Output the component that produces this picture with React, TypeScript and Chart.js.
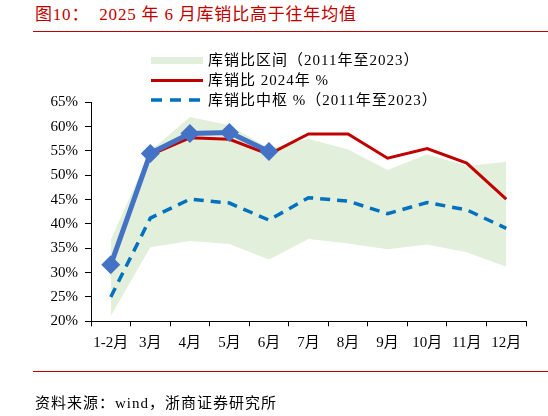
import React, { useEffect, useRef } from "react";
import { Chart, registerables } from "chart.js";

Chart.register(...registerables);

const categories = ["1-2月", "3月", "4月", "5月", "6月", "7月", "8月", "9月", "10月", "11月", "12月"];
const bandUpper = [36.7, 55.0, 62.0, 60.3, 55.5, 57.5, 55.3, 51.1, 54.3, 51.9, 52.8];
const bandLower = [21.1, 35.2, 36.5, 35.9, 32.7, 36.9, 36.0, 34.8, 35.8, 34.2, 31.2];
const median = [25.0, 41.2, 45.1, 44.3, 40.8, 45.4, 44.7, 42.1, 44.4, 42.9, 39.1];
const ratio2024 = [31.8, 54.2, 57.7, 57.4, 54.3, 58.5, 58.5, 53.5, 55.5, 52.5, 45.1];
const ratio2025 = [31.6, 54.5, 58.6, 58.8, 54.9, null, null, null, null, null, null];
const yTicks = [20, 25, 30, 35, 40, 45, 50, 55, 60, 65];

const FONT = "'Liberation Serif', 'Noto Sans CJK SC', serif";
const RED = "#C00000";
const GREEN = "#E2EFDA";
const DASH_BLUE = "#0070C0";
const BLUE = "#4472C4";

export default function App() {
  const ref = useRef<HTMLCanvasElement | null>(null);

  useEffect(() => {
    document.body.style.margin = "0";
    const canvas = ref.current;
    if (!canvas) return;
    const chart = new Chart(canvas, {
      type: "line",
      data: {
        labels: categories,
        datasets: [
          {
            label: "2025",
            data: ratio2025,
            borderColor: BLUE,
            backgroundColor: BLUE,
            borderWidth: 5,
            pointStyle: "rectRot",
            pointRadius: 9.5,
            pointBorderWidth: 0,
            fill: false,
            tension: 0,
          },
          {
            label: "库销比 2024年 %",
            data: ratio2024,
            borderColor: RED,
            borderWidth: 3,
            pointRadius: 0,
            fill: false,
            tension: 0,
          },
          {
            label: "库销比中枢 %（2011年至2023）",
            data: median,
            borderColor: DASH_BLUE,
            borderWidth: 3.5,
            borderDash: [10, 7],
            pointRadius: 0,
            fill: false,
            tension: 0,
          },
          {
            label: "库销比区间（2011年至2023）",
            data: bandUpper,
            borderWidth: 0,
            borderColor: "rgba(0,0,0,0)",
            backgroundColor: GREEN,
            pointRadius: 0,
            fill: "+1",
            tension: 0,
          },
          {
            label: "lower",
            data: bandLower,
            borderWidth: 0,
            borderColor: "rgba(0,0,0,0)",
            pointRadius: 0,
            fill: false,
            tension: 0,
          },
        ],
      },
      options: {
        responsive: false,
        animation: false,
        layout: { padding: { left: 0, right: 22, top: 102.3, bottom: 64.7 } },
        plugins: {
          legend: { display: false },
          tooltip: { enabled: false },
        },
        scales: {
          x: {
            type: "category",
            offset: true,
            grid: {
              offset: true,
              drawOnChartArea: false,
              drawTicks: true,
              tickLength: 5,
              color: "#000",
            },
            border: { color: "#000", width: 1 },
            ticks: {
              color: "#000",
              font: { family: FONT, size: 15 },
              padding: 8,
              maxRotation: 0,
              autoSkip: false,
            },
            afterFit: (s: any) => {
              s.height = 30;
            },
          },
          y: {
            min: 20,
            max: 65,
            afterBuildTicks: (s: any) => {
              s.ticks = yTicks.map((v) => ({ value: v }));
            },
            grid: {
              drawOnChartArea: false,
              drawTicks: true,
              tickLength: 6,
              color: "#000",
            },
            border: { color: "#000", width: 1 },
            ticks: {
              color: "#000",
              font: { family: FONT, size: 15 },
              padding: 7,
              callback: (v: any) => v + "%",
            },
            afterFit: (s: any) => {
              s.width = 91;
            },
          },
        },
      },
    });
    return () => chart.destroy();
  }, []);

  const legendText: React.CSSProperties = {
    position: "absolute",
    left: 208,
    fontFamily: FONT,
    fontSize: 15,
    color: "#000",
    lineHeight: "20px",
    whiteSpace: "nowrap",
    letterSpacing: "1px",
  };

  return (
    <div
      style={{
        position: "fixed",
        left: 0,
        top: 0,
        width: 548,
        height: 416,
        background: "#fff",
        overflow: "hidden",
      }}
    >
      <div
        style={{
          position: "absolute",
          left: 35,
          top: 4,
          fontFamily: FONT,
          fontSize: 17,
          color: RED,
          lineHeight: "22px",
          whiteSpace: "pre",
          letterSpacing: "0.8px",
        }}
      >
        {"图10：  2025 年 6 月库销比高于往年均值"}
      </div>
      <div style={{ position: "absolute", left: 33, top: 31, width: 515, height: 1, background: RED }} />
      <canvas ref={ref} width={548} height={416} style={{ position: "absolute", left: 0, top: 0 }} />
      <div style={{ position: "absolute", left: 151, top: 57, width: 52, height: 7, background: GREEN }} />
      <div style={{ ...legendText, top: 50 }}>库销比区间（2011年至2023）</div>
      <div style={{ position: "absolute", left: 151, top: 78.5, width: 52, height: 3, background: RED }} />
      <div style={{ ...legendText, top: 70 }}>库销比 2024年 %</div>
      <svg style={{ position: "absolute", left: 151, top: 96 }} width={54} height={8}>
        <line x1={0} y1={4} x2={54} y2={4} stroke={DASH_BLUE} strokeWidth={3.5} strokeDasharray="11 8" />
      </svg>
      <div style={{ ...legendText, top: 90 }}>库销比中枢 %（2011年至2023）</div>
      <div style={{ position: "absolute", left: 33, top: 371, width: 515, height: 1, background: RED }} />
      <div
        style={{
          position: "absolute",
          left: 35,
          top: 393,
          fontFamily: FONT,
          fontSize: 15,
          color: "#000",
          lineHeight: "20px",
          whiteSpace: "nowrap",
          letterSpacing: "1px",
        }}
      >
        资料来源：wind，浙商证券研究所
      </div>
    </div>
  );
}
